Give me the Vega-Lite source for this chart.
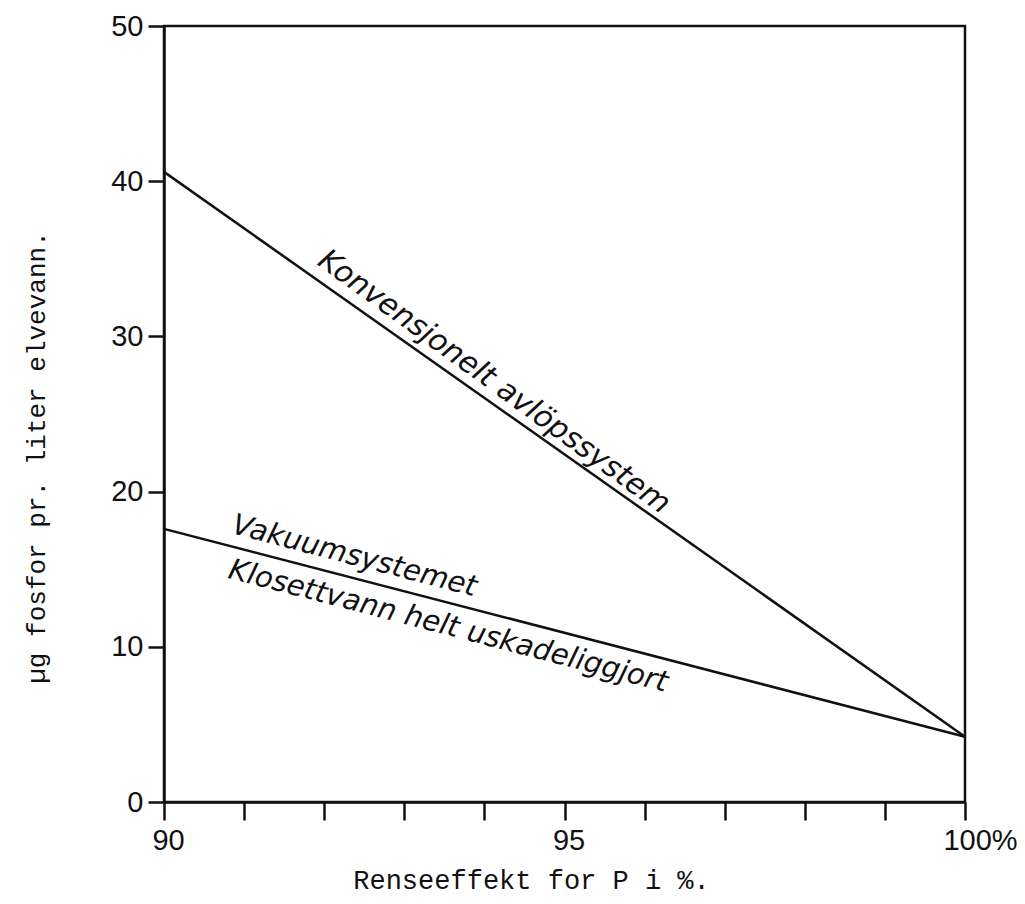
{
  "$schema": "https://vega.github.io/schema/vega-lite/v6.json",
  "autosize": "none",
  "width": 801,
  "height": 776,
  "padding": {"left": 164, "top": 26, "right": 60, "bottom": 102},
  "background": "white",
  "config": {
    "view": {"stroke": "#111", "strokeWidth": 2.5},
    "axis": {"grid": false, "domainColor": "#111", "domainWidth": 2.5, "tickColor": "#111", "tickWidth": 2.5, "labelColor": "#111", "titleColor": "#111"}
  },
  "datasets": {
    "lines": [
      {"system": "Konvensjonelt", "rense": 90, "fosfor": 40.6},
      {"system": "Konvensjonelt", "rense": 100, "fosfor": 4.2},
      {"system": "Vakuum", "rense": 90, "fosfor": 17.6},
      {"system": "Vakuum", "rense": 100, "fosfor": 4.2}
    ],
    "labels": [
      {"text": "Konvensjonelt  avlöpssystem", "rense": 94.12, "fosfor": 27.06, "group": "steep"},
      {"text": "Vakuumsystemet", "rense": 92.38, "fosfor": 15.85, "group": "flat"},
      {"text": "Klosettvann  helt  uskadeliggjort", "rense": 93.55, "fosfor": 11.34, "group": "flat"}
    ]
  },
  "layer": [
    {
      "data": {"name": "lines"},
      "mark": {"type": "line", "color": "#111", "strokeWidth": 2.5},
      "encoding": {
        "x": {
          "field": "rense", "type": "quantitative",
          "scale": {"domain": [90, 100], "nice": false, "zero": false},
          "axis": {
            "values": [90, 91, 92, 93, 94, 95, 96, 97, 98, 99, 100],
            "format": "d",
            "labelExpr": "datum.value == 100 ? '100%' : (datum.value == 90 || datum.value == 95 ? datum.label : '')",
            "labelFont": "Liberation Sans", "labelFontSize": 29,
            "labelFlush": false,
            "labelOffset": {"condition": {"test": "datum.value == 100", "value": 15}, "value": 4},
            "labelPadding": 6, "tickSize": 18,
            "title": "Renseeffekt for P i %.",
            "titleFont": "Liberation Mono", "titleFontSize": 27, "titleFontWeight": "normal",
            "titleX": 367, "titleY": 78, "titleBaseline": "middle", "titleAlign": "center"
          }
        },
        "y": {
          "field": "fosfor", "type": "quantitative",
          "scale": {"domain": [0, 50], "nice": false},
          "axis": {
            "values": [0, 10, 20, 30, 40, 50],
            "labelFont": "Liberation Sans", "labelFontSize": 29,
            "labelFlush": false,
            "labelPadding": 5, "tickSize": 16,
            "title": "µg fosfor pr. liter elvevann.",
            "titleFont": "Liberation Mono", "titleFontSize": 26, "titleFontWeight": "normal",
            "titleX": -128, "titleY": 431, "titleAngle": -90, "titleBaseline": "middle", "titleAlign": "center"
          }
        },
        "detail": {"field": "system"}
      }
    },
    {
      "data": {"name": "labels"},
      "transform": [{"filter": "datum.group == 'steep'"}],
      "mark": {"type": "text", "angle": 36, "font": "DejaVu Sans", "fontStyle": "italic", "fontSize": 30, "align": "center", "baseline": "middle", "color": "#111"},
      "encoding": {
        "x": {"field": "rense", "type": "quantitative"},
        "y": {"field": "fosfor", "type": "quantitative"},
        "text": {"field": "text"}
      }
    },
    {
      "data": {"name": "labels"},
      "transform": [{"filter": "datum.group == 'flat'"}],
      "mark": {"type": "text", "angle": 14.6, "font": "DejaVu Sans", "fontStyle": "italic", "fontSize": 29, "align": "center", "baseline": "middle", "color": "#111"},
      "encoding": {
        "x": {"field": "rense", "type": "quantitative"},
        "y": {"field": "fosfor", "type": "quantitative"},
        "text": {"field": "text"}
      }
    }
  ]
}
